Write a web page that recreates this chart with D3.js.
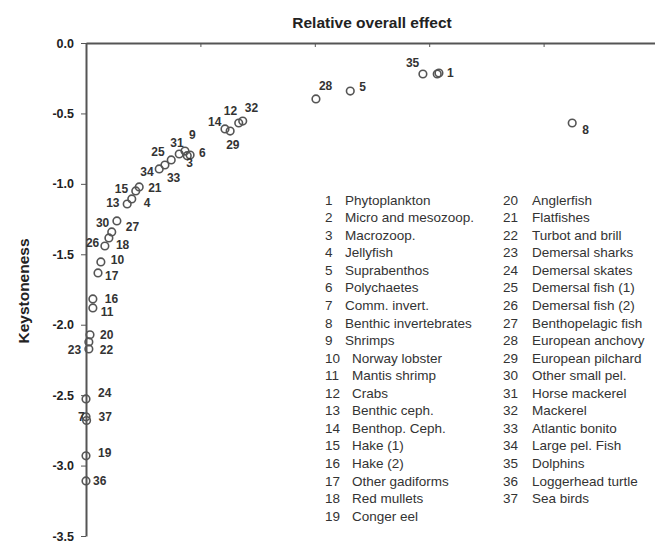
<!DOCTYPE html>
<html>
<head>
<meta charset="utf-8">
<script src="https://cdn.jsdelivr.net/npm/d3@7"></script>
<style>
    body { margin: 0; background: #fff; }
    svg text { font-family: "Liberation Sans", Arial, Helvetica, sans-serif; }
    .axis path, .axis line { stroke: #555; }
    .axis text { font-weight: bold; font-size: 12.5px; fill: #222; }
    .ptLabel { font-weight: bold; font-size: 12px; fill: #333; }
    .legTxt { font-size: 13.5px; fill: #333; }
</style>
</head>
<body>
<div id="chart"></div>
<script>
// group ids, relative overall effect (x) and keystoneness (y)
const ids = d3.range(1, 38);
const overallEffect = [0.617, 0.614, 0.177, 0.080, 0.462, 0.182, 0.000, 0.850, 0.173, 0.026,
    0.012, 0.267, 0.072, 0.243, 0.087, 0.012, 0.021, 0.040, 0.000, 0.007,
    0.093, 0.005, 0.005, 0.000, 0.149, 0.033, 0.045, 0.402, 0.252, 0.054,
    0.163, 0.274, 0.138, 0.128, 0.589, 0.000, 0.001];
const keystoneness = [-0.213, -0.220, -0.800, -1.107, -0.341, -0.795, -2.654, -0.568, -0.767, -1.554,
    -1.881, -0.568, -1.143, -0.610, -1.050, -1.817, -1.632, -1.384, -2.931, -2.072,
    -1.022, -2.172, -2.122, -2.527, -0.830, -1.441, -1.341, -0.397, -0.625, -1.263,
    -0.788, -0.554, -0.866, -0.894, -0.220, -3.109, -2.680];
const groupNames = ["Phytoplankton", "Micro and mesozoop.", "Macrozoop.", "Jellyfish", "Suprabenthos",
    "Polychaetes", "Comm. invert.", "Benthic invertebrates", "Shrimps", "Norway lobster",
    "Mantis shrimp", "Crabs", "Benthic ceph.", "Benthop. Ceph.", "Hake (1)", "Hake (2)",
    "Other gadiforms", "Red mullets", "Conger eel", "Anglerfish", "Flatfishes", "Turbot and brill",
    "Demersal sharks", "Demersal skates", "Demersal fish (1)", "Demersal fish (2)",
    "Benthopelagic fish", "European anchovy", "European pilchard", "Other small pel.",
    "Horse mackerel", "Mackerel", "Atlantic bonito", "Large pel. Fish", "Dolphins",
    "Loggerhead turtle", "Sea birds"];
const yTicks = [0, -0.5, -1, -1.5, -2, -2.5, -3, -3.5];
const xTicks = [0, 0.2, 0.4, 0.6, 0.8, 1.0];

// label placement (px offset from the circle), null = not labelled
const labelOffset = [[8, 0], null, [-1, 7], [12, 4], [9, -4], [9, -2], [-8, 0], [10, 7], [4, -16], [10, -2],
    [8, 4], [-15, -12], [-21, -1], [-17, -7], [-21, -2], [12, 0], [7, 3], [7, 7], [12, -3], [10, 0],
    [9, 1], [11, 1], [-21, 8], [12, -6], [-20, -8], [-19, -3], [14, -5], [3, -13], [-4, 14], [-21, 2],
    [-9, -11], [2, -13], [2, 13], [-19, 3], [-17, -11], [7, 0], [12, -4]];

const width = 655, height = 541;

const svg = d3.select("#chart").append("svg")
    .attr("width", width)
    .attr("height", height);

var x = d3.scaleLinear().domain([0, 1]).range([86, 658]);
var y = d3.scaleLinear().domain([0, -3.5]).range([43, 536]);

// title
svg.append("text")
    .attr("x", 372)
    .attr("y", 28)
    .attr("text-anchor", "middle")
    .style("font-weight", "bold")
    .style("font-size", "15.5px")
    .style("fill", "#222")
    .text("Relative overall effect");

// y label
svg.append("text")
    .attr("transform", "translate(29,291) rotate(-90)")
    .attr("text-anchor", "middle")
    .style("font-weight", "bold")
    .style("font-size", "15.5px")
    .style("fill", "#222")
    .text("Keystoneness");

// top axis, ticks pointing down
svg.append("g")
    .attr("class", "axis")
    .attr("transform", "translate(0," + y(0) + ")")
    .call(d3.axisTop(x).tickValues(xTicks).tickSizeInner(-4).tickSizeOuter(0).tickFormat(""))
    .call(g => g.select(".domain").attr("stroke-width", 2));

// left axis
svg.append("g")
    .attr("class", "axis")
    .attr("transform", "translate(" + x(0) + ",0)")
    .call(d3.axisLeft(y).tickValues(yTicks).tickSize(5).tickSizeOuter(0).tickPadding(7)
        .tickFormat(d => d.toFixed(1)))
    .call(g => g.select(".domain").attr("stroke-width", 2));

var pts = ids.map((id, i) => ({
    id: id, ex: overallEffect[i], ks: keystoneness[i], off: labelOffset[i]
}));

svg.append("g").selectAll("circle")
    .data(pts)
    .enter().append("circle")
    .attr("cx", d => x(d.ex))
    .attr("cy", d => y(d.ks))
    .attr("r", 3.8)
    .attr("fill", "none")
    .attr("stroke", "#555")
    .attr("stroke-width", 1.6);

svg.append("g").selectAll("text")
    .data(pts.filter(d => d.off))
    .enter().append("text")
    .attr("class", "ptLabel")
    .attr("x", d => x(d.ex) + d.off[0])
    .attr("y", d => y(d.ks) + d.off[1])
    .attr("dy", "0.35em")
    .text(d => d.id);

// legend, two columns
var rowH = 17.55;
var leg = svg.append("g");
ids.forEach((id, i) => {
    var col = i < 19 ? 0 : 1;
    var row = col ? i - 19 : i;
    var lx = col ? 503 : 325;
    var ly = 200 + row * rowH;
    var g = leg.append("g").attr("transform", "translate(" + lx + "," + ly + ")");
    g.append("text").attr("class", "legTxt").attr("dy", "0.35em").text(id);
    g.append("text").attr("class", "legTxt")
        .attr("x", col ? 29 : (id < 10 ? 20 : 27))
        .attr("dy", "0.35em")
        .text(groupNames[i]);
});
</script>
</body>
</html>
